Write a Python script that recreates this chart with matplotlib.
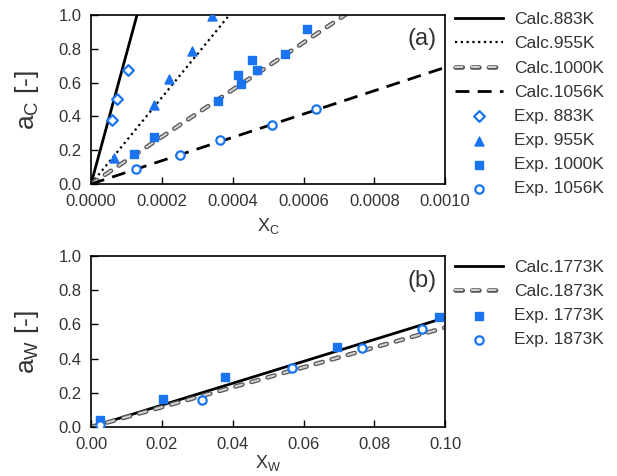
import numpy as np
import matplotlib.pyplot as plt
import matplotlib.patheffects as pe

plt.rcParams['font.family'] = ['Liberation Sans', 'DejaVu Sans']

# (a) carbon activity, lines from origin: slope of a_C vs X_C
calc_c_temps = ["883K", "955K", "1000K", "1056K"]
calc_c_slopes = [7700.0, 2560.0, 1395.0, 690.0]

exp883_x = [0.0000593, 0.0000734, 0.000104]
exp883_y = [0.376, 0.502, 0.675]
exp955_x = [0.000064, 0.000177, 0.000221, 0.000285, 0.000343]
exp955_y = [0.153, 0.466, 0.620, 0.785, 0.996]
exp1000_x = [0.000122, 0.000178, 0.000359, 0.000415, 0.000424, 0.000455, 0.000470, 0.000548, 0.000610]
exp1000_y = [0.175, 0.277, 0.494, 0.643, 0.594, 0.733, 0.675, 0.767, 0.916]
exp1056_x = [0.000128, 0.000251, 0.000363, 0.000511, 0.000634]
exp1056_y = [0.088, 0.171, 0.263, 0.351, 0.446]

# (b) tungsten activity
calc_w_temps = ["1773K", "1873K"]
calc_w_slopes = [6.4, 5.82]
exp1773_x = [0.0025, 0.0204, 0.0378, 0.0694, 0.0983]
exp1773_y = [0.043, 0.166, 0.290, 0.471, 0.641]
exp1873_x = [0.0025, 0.0312, 0.0568, 0.0765, 0.0934]
exp1873_y = [0.010, 0.160, 0.343, 0.462, 0.572]

blue = "#1a73f0"
txt = "#333333"


def gray_dash(ax, x, y):
    # double-tone dashed line (dark edge, light fill)
    l, = ax.plot(x, y, color="#cfcfcf", lw=1.5, dashes=(3.5, 4.5), dash_capstyle="round",
                 path_effects=[pe.Stroke(linewidth=3.3, foreground="#555555"), pe.Normal()])
    return l


def style_axes(ax):
    ax.tick_params(direction="in", labelsize=12, length=5, width=1, pad=7, labelcolor=txt)
    for s in ax.spines.values():
        s.set_linewidth(1.2)


fig = plt.figure(figsize=(6.17, 4.76), dpi=100)
ax1 = fig.add_axes([0.1475, 0.6134, 0.574, 0.355])
ax2 = fig.add_axes([0.1475, 0.1029, 0.574, 0.359])

xa = np.array([0.0, 0.001])
h = []
l, = ax1.plot(xa, calc_c_slopes[0] * xa, color="black", lw=2)
h.append(l)
l, = ax1.plot(xa, calc_c_slopes[1] * xa, color="black", lw=1.6, ls=(0, (1, 1.6)))
h.append(l)
h.append(gray_dash(ax1, xa, calc_c_slopes[2] * xa))
l, = ax1.plot(xa, calc_c_slopes[3] * xa, color="black", lw=2, dashes=(5, 3))
h.append(l)
h.append(ax1.scatter(exp883_x, exp883_y, marker="D", s=30, facecolors="white", edgecolors=blue, linewidths=1.6, zorder=5))
h.append(ax1.scatter(exp955_x, exp955_y, marker="^", s=42, color=blue, zorder=5))
h.append(ax1.scatter(exp1000_x, exp1000_y, marker="s", s=36, color=blue, zorder=5))
h.append(ax1.scatter(exp1056_x, exp1056_y, marker="o", s=36, facecolors="white", edgecolors=blue, linewidths=1.6, zorder=5))
labels = ["Calc." + t for t in calc_c_temps] + ["Exp. " + t for t in calc_c_temps]

ax1.set_xlim(0, 0.001)
ax1.set_ylim(0, 1.0)
ax1.set_xticks(np.arange(0, 0.00101, 0.0002))
ax1.set_xticklabels(["%.4f" % v for v in np.arange(0, 0.00101, 0.0002)])
ax1.set_yticks(np.arange(0, 1.01, 0.2))
ax1.set_yticklabels(["%.1f" % v for v in np.arange(0, 1.01, 0.2)])
ax1.set_xlabel("X$_\\mathregular{C}$", fontsize=13, labelpad=5, color=txt)
ax1.set_ylabel("a$_\\mathregular{C}$ [-]", fontsize=19, labelpad=12, color=txt)
ax1.text(0.977, 0.82, "(a)", transform=ax1.transAxes, ha="right", fontsize=17, color=txt)
style_axes(ax1)
ax1.legend(h, labels, loc="upper left", bbox_to_anchor=(0.985, 1.11), frameon=False,
           fontsize=12.5, handlelength=2.75, labelspacing=0.52, handletextpad=0.6,
           labelcolor=txt)

xb = np.array([0.0, 0.1])
h2 = []
l, = ax2.plot(xb, calc_w_slopes[0] * xb, color="black", lw=2)
h2.append(l)
h2.append(gray_dash(ax2, xb, calc_w_slopes[1] * xb))
h2.append(ax2.scatter(exp1773_x, exp1773_y, marker="s", s=36, color=blue, zorder=5))
h2.append(ax2.scatter(exp1873_x, exp1873_y, marker="o", s=36, facecolors="white", edgecolors=blue, linewidths=1.6, zorder=5))
labels2 = ["Calc." + t for t in calc_w_temps] + ["Exp. " + t for t in calc_w_temps]

ax2.set_xlim(0, 0.1)
ax2.set_ylim(0, 1.0)
ax2.set_xticks(np.arange(0, 0.101, 0.02))
ax2.set_xticklabels(["%.2f" % v for v in np.arange(0, 0.101, 0.02)])
ax2.set_yticks(np.arange(0, 1.01, 0.2))
ax2.set_yticklabels(["%.1f" % v for v in np.arange(0, 1.01, 0.2)])
ax2.set_xlabel("X$_\\mathregular{W}$", fontsize=13, labelpad=1, color=txt)
ax2.set_ylabel("a$_\\mathregular{W}$ [-]", fontsize=19, labelpad=12, color=txt)
ax2.text(0.977, 0.82, "(b)", transform=ax2.transAxes, ha="right", fontsize=17, color=txt)
style_axes(ax2)
ax2.legend(h2, labels2, loc="upper left", bbox_to_anchor=(0.985, 1.07), frameon=False,
           fontsize=12.5, handlelength=2.75, labelspacing=0.52, handletextpad=0.6,
           labelcolor=txt)

fig.savefig("out.png", dpi=100)
